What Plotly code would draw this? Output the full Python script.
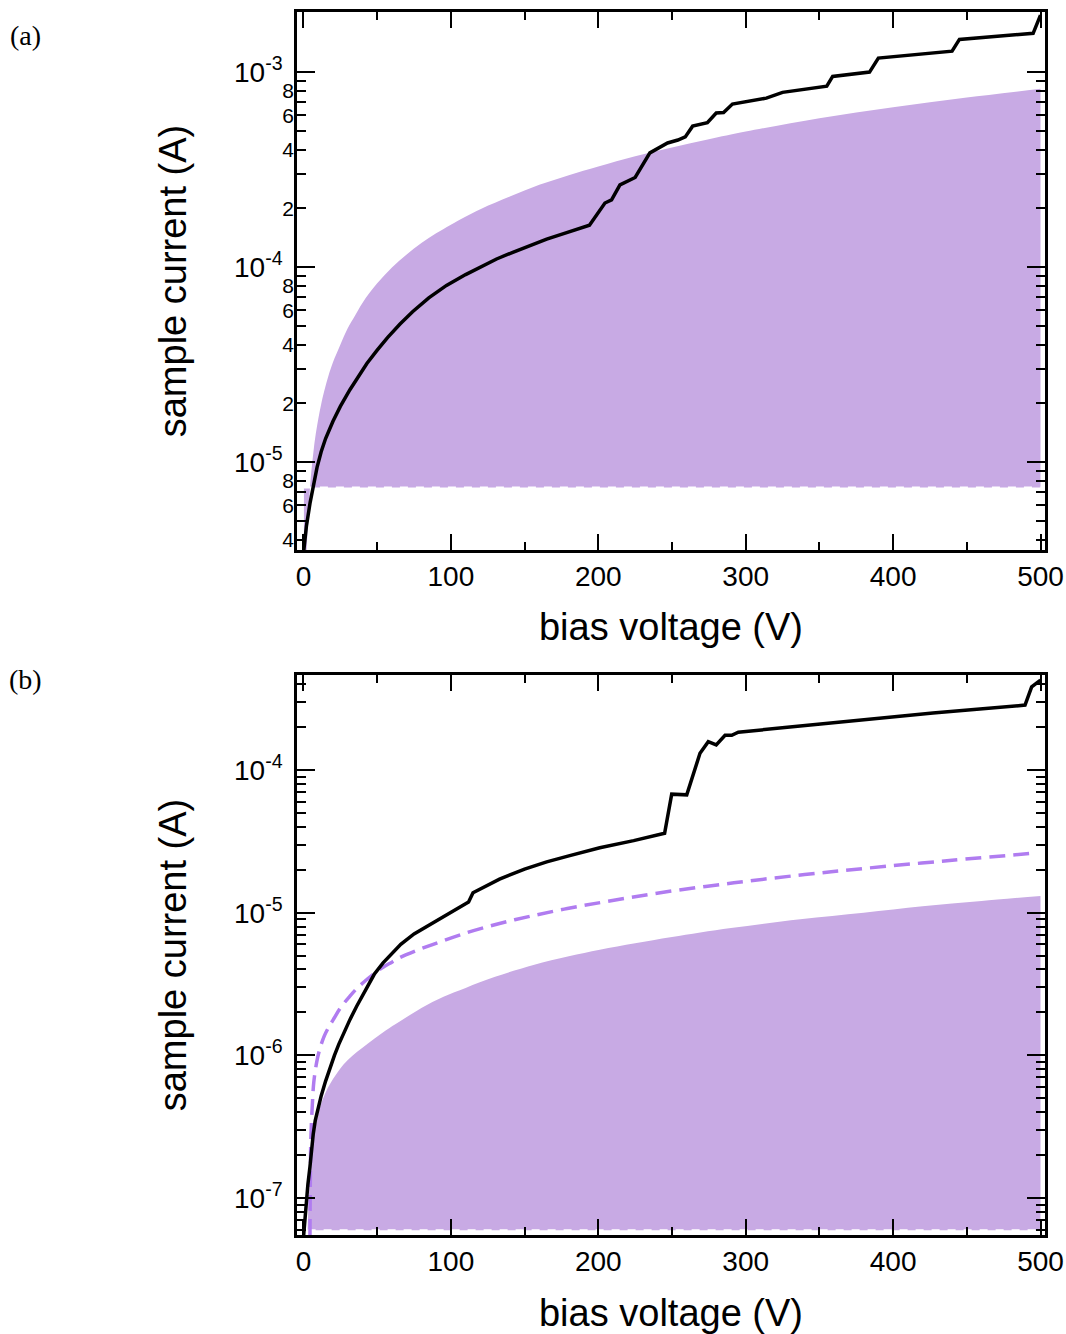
import plotly.graph_objects as go

# ---------------- Panel (a) data ----------------
a_fill_v = [0.3, 1, 2, 3, 4, 5, 6, 7, 8, 10, 12, 14, 17, 20, 25, 30, 35, 40, 50, 60, 70, 80, 90, 100,
            120, 140, 160, 180, 200, 225, 250, 275, 300, 350, 400, 450, 500]
a_fill_i = [5e-7, 1.6e-6, 3.3e-6, 4.9e-6, 6.6e-6, 8.4e-6, 1.0e-5, 1.17e-5, 1.34e-5, 1.66e-5, 1.98e-5,
            2.3e-5, 2.78e-5, 3.25e-5, 4.0e-5, 4.85e-5, 5.65e-5, 6.55e-5, 8.25e-5, 9.95e-5, 1.16e-4, 1.33e-4,
            1.49e-4, 1.65e-4, 1.98e-4, 2.3e-4, 2.64e-4, 2.96e-4, 3.28e-4, 3.7e-4, 4.1e-4, 4.52e-4, 4.95e-4,
            5.8e-4, 6.6e-4, 7.4e-4, 8.2e-4]
a_floor_v = [0.3, 500]
a_floor_i = [7.4e-6, 7.4e-6]
a_meas_v = [0, 2, 4.5, 7, 9.2, 12, 15, 20, 25, 31.5, 37, 43, 50, 57, 65.5, 74, 85, 97, 110, 120, 131, 142,
            154, 165, 177, 188, 194, 204.5, 209, 214.7, 225, 235, 242, 247, 254, 259, 264, 274, 280, 285,
            291, 314, 325, 355, 359, 384, 390, 440, 445, 461, 495, 500]
a_meas_i = [3.4e-6, 4.7e-6, 6.2e-6, 7.9e-6, 9.4e-6, 1.13e-5, 1.32e-5, 1.62e-5, 1.93e-5, 2.35e-5, 2.75e-5,
            3.2e-5, 3.75e-5, 4.35e-5, 5.1e-5, 5.9e-5, 6.95e-5, 8.05e-5, 9.15e-5, 1.0e-4, 1.1e-4, 1.19e-4,
            1.29e-4, 1.39e-4, 1.49e-4, 1.58e-4, 1.64e-4, 2.13e-4, 2.21e-4, 2.64e-4, 2.88e-4, 3.85e-4, 4.12e-4,
            4.33e-4, 4.48e-4, 4.65e-4, 5.28e-4, 5.5e-4, 6.17e-4, 6.2e-4, 6.85e-4, 7.35e-4, 7.87e-4, 8.47e-4,
            9.5e-4, 1.0e-3, 1.18e-3, 1.28e-3, 1.47e-3, 1.5e-3, 1.58e-3, 1.96e-3]

# ---------------- Panel (b) data ----------------
b_fill_v = [2.8, 3.2, 3.6, 4.2, 5, 6, 7, 8.5, 10, 12, 15, 18, 22, 27, 33, 40, 48, 56, 65, 80, 95, 110, 130,
            156, 180, 201, 225, 250, 290, 337, 380, 420, 460, 500]
b_fill_i = [6.0e-8, 8.0e-8, 1.0e-7, 1.3e-7, 1.7e-7, 2.2e-7, 2.7e-7, 3.3e-7, 3.9e-7, 4.6e-7, 5.5e-7, 6.3e-7,
            7.3e-7, 8.6e-7, 9.9e-7, 1.13e-6, 1.31e-6, 1.5e-6, 1.72e-6, 2.15e-6, 2.58e-6, 2.97e-6, 3.55e-6,
            4.3e-6, 4.95e-6, 5.5e-6, 6.1e-6, 6.75e-6, 7.8e-6, 9.0e-6, 1.0e-5, 1.11e-5, 1.21e-5, 1.31e-5]
b_floor_v = [2.8, 500]
b_floor_i = [5.94e-8, 5.94e-8]
b_model_v = [4.4, 4.6, 5, 6, 7, 9, 11.2, 14, 17, 20.2, 25, 31.5, 37, 43, 48, 54, 60, 65.5, 76, 88, 110, 133,
             155, 179, 204, 242, 292, 340, 382, 440, 497]
b_model_i = [5.5e-8, 1.2e-7, 2.6e-7, 4.5e-7, 6.5e-7, 9.0e-7, 1.12e-6, 1.36e-6, 1.57e-6, 1.78e-6, 2.15e-6,
             2.6e-6, 3.0e-6, 3.4e-6, 3.75e-6, 4.15e-6, 4.5e-6, 4.85e-6, 5.4e-6, 6.0e-6, 7.2e-6, 8.4e-6,
             9.5e-6, 1.07e-5, 1.19e-5, 1.38e-5, 1.62e-5, 1.85e-5, 2.05e-5, 2.33e-5, 2.62e-5]
b_meas_v = [0, 1, 2, 3, 4.4, 5.5, 6.6, 8, 10, 12, 15, 18, 21, 24, 27, 31.5, 36, 40, 44, 48, 54, 60, 66, 75,
            88, 100, 108, 112, 115, 120, 133, 150, 165, 180, 201, 224, 245, 249.8, 260, 269, 274.6, 280,
            286, 290.5, 295, 330, 359, 427, 489.5, 494, 500]
b_meas_i = [5.3e-8, 7.3e-8, 9.6e-8, 1.25e-7, 1.66e-7, 2.2e-7, 2.8e-7, 3.5e-7, 4.3e-7, 5.2e-7, 6.6e-7,
            8.2e-7, 1.0e-6, 1.2e-6, 1.42e-6, 1.78e-6, 2.2e-6, 2.62e-6, 3.15e-6, 3.7e-6, 4.45e-6, 5.2e-6,
            6.0e-6, 7.1e-6, 8.5e-6, 1.0e-5, 1.12e-5, 1.19e-5, 1.38e-5, 1.47e-5, 1.72e-5, 2.02e-5, 2.27e-5,
            2.5e-5, 2.85e-5, 3.2e-5, 3.6e-5, 6.77e-5, 6.7e-5, 1.31e-4, 1.58e-4, 1.5e-4, 1.75e-4, 1.75e-4,
            1.84e-4, 2.0e-4, 2.14e-4, 2.51e-4, 2.85e-4, 3.83e-4, 4.27e-4]

# ---------------- Tick definitions ----------------
x_major = [0, 100, 200, 300, 400, 500]
x_minor = [50, 150, 250, 350, 450]
a_major = [1e-5, 1e-4, 1e-3]
a_major_text = ["10<sup>-5</sup>", "10<sup>-4</sup>", "10<sup>-3</sup>"]
a_minor = [4e-6, 5e-6, 6e-6, 7e-6, 8e-6, 9e-6,
           2e-5, 3e-5, 4e-5, 5e-5, 6e-5, 7e-5, 8e-5, 9e-5,
           2e-4, 3e-4, 4e-4, 5e-4, 6e-4, 7e-4, 8e-4, 9e-4]
a_minor_lab = [4e-6, 6e-6, 8e-6, 2e-5, 4e-5, 6e-5, 8e-5, 2e-4, 4e-4, 6e-4, 8e-4]
a_minor_text = ["4", "6", "8", "2", "4", "6", "8", "2", "4", "6", "8"]
b_major = [1e-7, 1e-6, 1e-5, 1e-4]
b_major_text = ["10<sup>-7</sup>", "10<sup>-6</sup>", "10<sup>-5</sup>", "10<sup>-4</sup>"]
b_minor = [6e-8, 7e-8, 8e-8, 9e-8,
           2e-7, 3e-7, 4e-7, 5e-7, 6e-7, 7e-7, 8e-7, 9e-7,
           2e-6, 3e-6, 4e-6, 5e-6, 6e-6, 7e-6, 8e-6, 9e-6,
           2e-5, 3e-5, 4e-5, 5e-5, 6e-5, 7e-5, 8e-5, 9e-5,
           2e-4, 3e-4, 4e-4]

FILL = "#c8aae4"
DASH = "#b07cf0"
FONT = "Liberation Sans, Arial, sans-serif"
SERIF = "Liberation Serif, Times New Roman, serif"

fig = go.Figure()

# panel a
fig.add_trace(go.Scatter(x=a_floor_v, y=a_floor_i, mode="lines", xaxis="x", yaxis="y",
                         line=dict(color="white", width=2, dash="8px,8px"), showlegend=False))
fig.add_trace(go.Scatter(x=a_fill_v, y=a_fill_i, mode="lines", xaxis="x", yaxis="y", fill="tonexty",
                         fillcolor=FILL, line=dict(width=0, color=FILL, shape="spline"), showlegend=False))
fig.add_trace(go.Scatter(x=a_meas_v, y=a_meas_i, mode="lines", xaxis="x", yaxis="y",
                         line=dict(color="black", width=3.5), showlegend=False))
fig.add_trace(go.Scatter(x=[], y=[], xaxis="x", yaxis="y3", showlegend=False))

# panel b
fig.add_trace(go.Scatter(x=b_floor_v, y=b_floor_i, mode="lines", xaxis="x2", yaxis="y2",
                         line=dict(color="white", width=2, dash="8px,8px"), showlegend=False))
fig.add_trace(go.Scatter(x=b_fill_v, y=b_fill_i, mode="lines", xaxis="x2", yaxis="y2", fill="tonexty",
                         fillcolor=FILL, line=dict(width=0, color=FILL, shape="spline"), showlegend=False))
fig.add_trace(go.Scatter(x=b_model_v, y=b_model_i, mode="lines", xaxis="x2", yaxis="y2",
                         line=dict(color=DASH, width=3.5, dash="16px,8px", shape="spline"), showlegend=False))
fig.add_trace(go.Scatter(x=b_meas_v, y=b_meas_i, mode="lines", xaxis="x2", yaxis="y2",
                         line=dict(color="black", width=3.5), showlegend=False))

XR = [-4.4, 503.05]

def xaxis(anchor, title, standoff):
    return dict(
        domain=[0, 1], anchor=anchor, range=XR, showline=True, linecolor="black", linewidth=2.5,
        mirror="ticks", ticks="inside", ticklen=16, tickwidth=2, tickcolor="black",
        tickvals=x_major, ticktext=[str(v) for v in x_major],
        tickfont=dict(size=28, color="black", family=FONT),
        minor=dict(tickvals=x_minor, ticks="inside", ticklen=8, tickwidth=2, tickcolor="black"),
        showgrid=False, zeroline=False, automargin=False,
        title=dict(text=title, font=dict(size=38, color="black", family=FONT), standoff=standoff),
    )

def yaxis(domain, anchor, rng, major, major_text, minor):
    return dict(
        domain=domain, anchor=anchor, type="log", range=rng, showline=True, linecolor="black",
        linewidth=2.5, mirror="ticks", ticks="inside", ticklen=18, tickwidth=2, tickcolor="black",
        tickvals=major, ticktext=major_text, tickfont=dict(size=28, color="black", family=FONT),
        minor=dict(tickvals=minor, ticks="inside", ticklen=9, tickwidth=2, tickcolor="black"),
        showgrid=False, zeroline=False, ticklabelstandoff=6, automargin=False,
        title=dict(text="sample current (A)", font=dict(size=38, color="black", family=FONT), standoff=36),
    )

fig.update_layout(
    width=1066, height=1334,
    margin=dict(l=297, r=21, t=12, b=99),
    paper_bgcolor="white", plot_bgcolor="white",
    font=dict(family=FONT, color="black"),
    xaxis=xaxis("y", "bias voltage (V)", 23),
    yaxis=yaxis([0.5601, 1.0], "x", [-5.451, -2.692], a_major, a_major_text, a_minor),
    xaxis2=xaxis("y2", "bias voltage (V)", 29),
    yaxis2=yaxis([0.0, 0.4579], "x2", [-7.259, -3.334], b_major, b_major_text, b_minor),
    yaxis3=dict(overlaying="y", anchor="x", side="left", type="log", range=[-5.451, -2.692],
                showline=False, ticks="", tickvals=a_minor_lab, ticktext=a_minor_text,
                tickfont=dict(size=21, color="black", family=FONT), showgrid=False, zeroline=False,
                ticklabelstandoff=2, automargin=False),
    annotations=[
        dict(text="(a)", x=(25 - 297) / 748, y=1.0 - (36 - 12) / 1223, xref="paper", yref="paper",
             showarrow=False, xanchor="center", yanchor="middle",
             font=dict(family=SERIF, size=28, color="black")),
        dict(text="(b)", x=(25 - 297) / 748, y=1.0 - (679 - 12) / 1223, xref="paper", yref="paper",
             showarrow=False, xanchor="center", yanchor="middle",
             font=dict(family=SERIF, size=28, color="black")),
    ],
)

# remove the browser's default 8px page margin so the figure fills the window exactly
fig.write_html(
    "out.html",
    config={"displayModeBar": False},
    post_script=("document.documentElement.style.margin='0';"
                 "document.body.style.margin='0';"
                 "document.documentElement.style.overflow='hidden';"
                 "document.body.style.overflow='hidden';"),
)
